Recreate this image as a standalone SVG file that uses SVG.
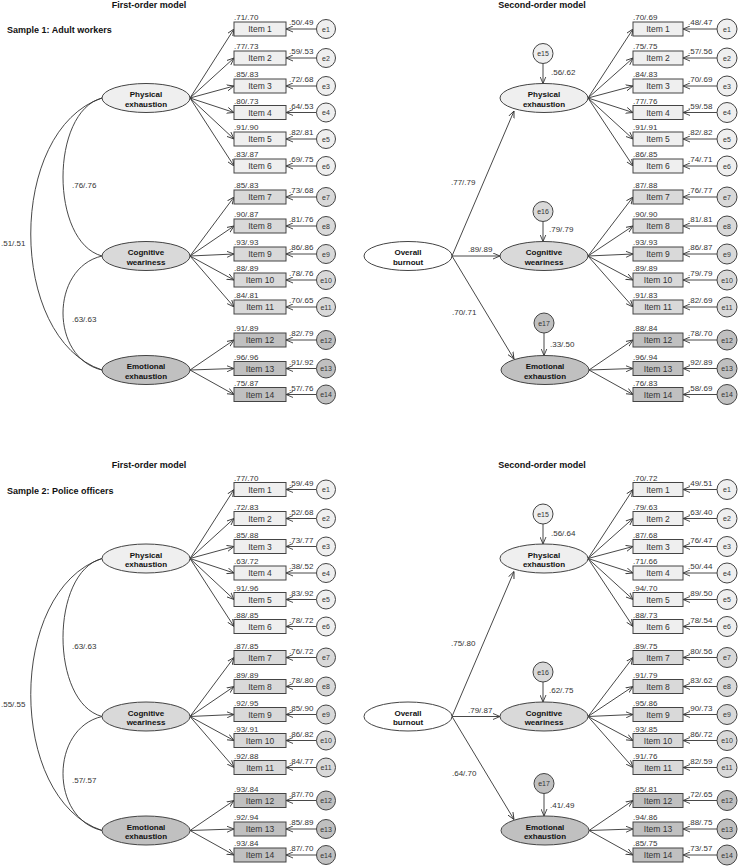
<svg xmlns="http://www.w3.org/2000/svg" width="738" height="867" viewBox="0 0 738 867">
<style>
text{font-family:"Liberation Sans",Arial,sans-serif;fill:#333}
.tt{font-size:9px;font-weight:bold;fill:#111}
.v{font-size:8px}
.it{font-size:8.5px;text-anchor:middle}
.et{font-size:7px;text-anchor:middle}
.lt{font-size:8px;font-weight:bold;text-anchor:middle;fill:#111}
rect,circle,ellipse{stroke:#444;stroke-width:1}
.f1{fill:#efefef}.f2{fill:#d9d9d9}.f3{fill:#c0c0c0}.f0{fill:#fff}
.cn line,.cn path{stroke:#333;stroke-width:0.9;fill:none}
.ar{marker-end:url(#ah)}
</style>
<defs>
<marker id="ah" viewBox="0 0 8 8" refX="8" refY="4" markerWidth="7" markerHeight="7" markerUnits="userSpaceOnUse" orient="auto"><path d="M0,0.6 L8,4 L0,7.4" fill="none" stroke="#333" stroke-width="1"/></marker>
</defs>

<!-- ================= SAMPLE 1 ================= -->
<g id="sample1">
<text class="tt" x="149" y="7.5" text-anchor="middle">First-order model</text>
<text class="tt" x="542" y="7.5" text-anchor="middle">Second-order model</text>
<text class="tt" x="7" y="33">Sample 1: Adult workers</text>

<!-- first-order connectors -->
<g id="s1-fo-connectors" class="cn">
<path d="M102,98 C50,112 50,242 102,256"/>
<path d="M102,98 C7,130 7,338 102,370"/>
<path d="M102,256 C50,268 50,358 102,370"/>
<line class="ar" x1="190" y1="98" x2="234" y2="29"/>
<line class="ar" x1="190" y1="98" x2="234" y2="58"/>
<line class="ar" x1="190" y1="98" x2="234" y2="86"/>
<line class="ar" x1="190" y1="98" x2="234" y2="112.5"/>
<line class="ar" x1="190" y1="98" x2="234" y2="139"/>
<line class="ar" x1="190" y1="98" x2="234" y2="166"/>
<line class="ar" x1="190" y1="256" x2="234" y2="197"/>
<line class="ar" x1="190" y1="256" x2="234" y2="226"/>
<line class="ar" x1="190" y1="256" x2="234" y2="254"/>
<line class="ar" x1="190" y1="256" x2="234" y2="280"/>
<line class="ar" x1="190" y1="256" x2="234" y2="307"/>
<line class="ar" x1="190" y1="370" x2="234" y2="340"/>
<line class="ar" x1="190" y1="370" x2="234" y2="368.5"/>
<line class="ar" x1="190" y1="370" x2="234" y2="394.5"/>
<line class="ar" x1="316.5" y1="29" x2="286" y2="29"/>
<line class="ar" x1="316.5" y1="58" x2="286" y2="58"/>
<line class="ar" x1="316.5" y1="86" x2="286" y2="86"/>
<line class="ar" x1="316.5" y1="112.5" x2="286" y2="112.5"/>
<line class="ar" x1="316.5" y1="139" x2="286" y2="139"/>
<line class="ar" x1="316.5" y1="166" x2="286" y2="166"/>
<line class="ar" x1="316.5" y1="197" x2="286" y2="197"/>
<line class="ar" x1="316.5" y1="226" x2="286" y2="226"/>
<line class="ar" x1="316.5" y1="254" x2="286" y2="254"/>
<line class="ar" x1="316.5" y1="280" x2="286" y2="280"/>
<line class="ar" x1="316.5" y1="307" x2="286" y2="307"/>
<line class="ar" x1="316.5" y1="340" x2="286" y2="340"/>
<line class="ar" x1="316.5" y1="368.5" x2="286" y2="368.5"/>
<line class="ar" x1="316.5" y1="394.5" x2="286" y2="394.5"/>
<text class="v" x="72" y="188">.76/.76</text>
<text class="v" x="1" y="246">.51/.51</text>
<text class="v" x="72" y="322">.63/.63</text>
<text class="v" x="234" y="20">.71/.70</text>
<text class="v" x="234" y="49">.77/.73</text>
<text class="v" x="234" y="77">.85/.83</text>
<text class="v" x="234" y="103.5">.80/.73</text>
<text class="v" x="234" y="130">.91/.90</text>
<text class="v" x="234" y="157">.83/.87</text>
<text class="v" x="234" y="188">.85/.83</text>
<text class="v" x="234" y="217">.90/.87</text>
<text class="v" x="234" y="245">.93/.93</text>
<text class="v" x="234" y="271">.88/.89</text>
<text class="v" x="234" y="298">.84/.81</text>
<text class="v" x="234" y="331">.91/.89</text>
<text class="v" x="234" y="359.5">.96/.96</text>
<text class="v" x="234" y="385.5">.75/.87</text>
<text class="v" x="289" y="25">.50/.49</text>
<text class="v" x="289" y="54">.59/.53</text>
<text class="v" x="289" y="82">.72/.68</text>
<text class="v" x="289" y="108.5">.64/.53</text>
<text class="v" x="289" y="135">.82/.81</text>
<text class="v" x="289" y="162">.69/.75</text>
<text class="v" x="289" y="193">.73/.68</text>
<text class="v" x="289" y="222">.81/.76</text>
<text class="v" x="289" y="250">.86/.86</text>
<text class="v" x="289" y="276">.78/.76</text>
<text class="v" x="289" y="303">.70/.65</text>
<text class="v" x="289" y="336">.82/.79</text>
<text class="v" x="289" y="364.5">.91/.92</text>
<text class="v" x="289" y="390.5">.57/.76</text>
</g>

<!-- first-order nodes -->
<g id="s1-fo-physical"><ellipse class="f1" cx="146" cy="98" rx="44" ry="14.5"/><text class="lt" x="146" y="97">Physical</text><text class="lt" x="146" y="106.5">exhaustion</text></g>
<g id="s1-fo-cognitive"><ellipse class="f2" cx="146" cy="256" rx="44" ry="14.5"/><text class="lt" x="146" y="255">Cognitive</text><text class="lt" x="146" y="264.5">weariness</text></g>
<g id="s1-fo-emotional"><ellipse class="f3" cx="146" cy="370" rx="44" ry="14.5"/><text class="lt" x="146" y="369">Emotional</text><text class="lt" x="146" y="378.5">exhaustion</text></g>

<g id="s1-fo-item1"><rect class="f1" x="234" y="22" width="52" height="14"/><text class="it" x="260" y="32">Item 1</text></g>
<g id="s1-fo-item2"><rect class="f1" x="234" y="51" width="52" height="14"/><text class="it" x="260" y="61">Item 2</text></g>
<g id="s1-fo-item3"><rect class="f1" x="234" y="79" width="52" height="14"/><text class="it" x="260" y="89">Item 3</text></g>
<g id="s1-fo-item4"><rect class="f1" x="234" y="105.5" width="52" height="14"/><text class="it" x="260" y="115.5">Item 4</text></g>
<g id="s1-fo-item5"><rect class="f1" x="234" y="132" width="52" height="14"/><text class="it" x="260" y="142">Item 5</text></g>
<g id="s1-fo-item6"><rect class="f1" x="234" y="159" width="52" height="14"/><text class="it" x="260" y="169">Item 6</text></g>
<g id="s1-fo-item7"><rect class="f2" x="234" y="190" width="52" height="14"/><text class="it" x="260" y="200">Item 7</text></g>
<g id="s1-fo-item8"><rect class="f2" x="234" y="219" width="52" height="14"/><text class="it" x="260" y="229">Item 8</text></g>
<g id="s1-fo-item9"><rect class="f2" x="234" y="247" width="52" height="14"/><text class="it" x="260" y="257">Item 9</text></g>
<g id="s1-fo-item10"><rect class="f2" x="234" y="273" width="52" height="14"/><text class="it" x="260" y="283">Item 10</text></g>
<g id="s1-fo-item11"><rect class="f2" x="234" y="300" width="52" height="14"/><text class="it" x="260" y="310">Item 11</text></g>
<g id="s1-fo-item12"><rect class="f3" x="234" y="333" width="52" height="14"/><text class="it" x="260" y="343">Item 12</text></g>
<g id="s1-fo-item13"><rect class="f3" x="234" y="361.5" width="52" height="14"/><text class="it" x="260" y="371.5">Item 13</text></g>
<g id="s1-fo-item14"><rect class="f3" x="234" y="387.5" width="52" height="14"/><text class="it" x="260" y="397.5">Item 14</text></g>

<g id="s1-fo-e1"><circle class="f1" cx="326" cy="29" r="9.5"/><text class="et" x="326" y="31.5">e1</text></g>
<g id="s1-fo-e2"><circle class="f1" cx="326" cy="58" r="9.5"/><text class="et" x="326" y="60.5">e2</text></g>
<g id="s1-fo-e3"><circle class="f1" cx="326" cy="86" r="9.5"/><text class="et" x="326" y="88.5">e3</text></g>
<g id="s1-fo-e4"><circle class="f1" cx="326" cy="112.5" r="9.5"/><text class="et" x="326" y="115">e4</text></g>
<g id="s1-fo-e5"><circle class="f1" cx="326" cy="139" r="9.5"/><text class="et" x="326" y="141.5">e5</text></g>
<g id="s1-fo-e6"><circle class="f1" cx="326" cy="166" r="9.5"/><text class="et" x="326" y="168.5">e6</text></g>
<g id="s1-fo-e7"><circle class="f2" cx="326" cy="197" r="9.5"/><text class="et" x="326" y="199.5">e7</text></g>
<g id="s1-fo-e8"><circle class="f2" cx="326" cy="226" r="9.5"/><text class="et" x="326" y="228.5">e8</text></g>
<g id="s1-fo-e9"><circle class="f2" cx="326" cy="254" r="9.5"/><text class="et" x="326" y="256.5">e9</text></g>
<g id="s1-fo-e10"><circle class="f2" cx="326" cy="280" r="9.5"/><text class="et" x="326" y="282.5">e10</text></g>
<g id="s1-fo-e11"><circle class="f2" cx="326" cy="307" r="9.5"/><text class="et" x="326" y="309.5">e11</text></g>
<g id="s1-fo-e12"><circle class="f3" cx="326" cy="340" r="9.5"/><text class="et" x="326" y="342.5">e12</text></g>
<g id="s1-fo-e13"><circle class="f3" cx="326" cy="368.5" r="9.5"/><text class="et" x="326" y="371">e13</text></g>
<g id="s1-fo-e14"><circle class="f3" cx="326" cy="394.5" r="9.5"/><text class="et" x="326" y="397">e14</text></g>

<!-- second-order connectors -->
<g id="s1-so-connectors" class="cn">
<line class="ar" x1="452" y1="256" x2="514" y2="111"/>
<line class="ar" x1="452" y1="256" x2="500" y2="256"/>
<line class="ar" x1="452" y1="256" x2="514" y2="359"/>
<line class="ar" x1="543" y1="63.5" x2="543" y2="83.5"/>
<line class="ar" x1="543" y1="221.5" x2="543" y2="241.5"/>
<line class="ar" x1="544" y1="333" x2="544" y2="355.5"/>
<line class="ar" x1="588" y1="98" x2="633" y2="29"/>
<line class="ar" x1="588" y1="98" x2="633" y2="58"/>
<line class="ar" x1="588" y1="98" x2="633" y2="86"/>
<line class="ar" x1="588" y1="98" x2="633" y2="112.5"/>
<line class="ar" x1="588" y1="98" x2="633" y2="139"/>
<line class="ar" x1="588" y1="98" x2="633" y2="166"/>
<line class="ar" x1="588" y1="256" x2="633" y2="197"/>
<line class="ar" x1="588" y1="256" x2="633" y2="226"/>
<line class="ar" x1="588" y1="256" x2="633" y2="254"/>
<line class="ar" x1="588" y1="256" x2="633" y2="280"/>
<line class="ar" x1="588" y1="256" x2="633" y2="307"/>
<line class="ar" x1="589" y1="370" x2="633" y2="340"/>
<line class="ar" x1="589" y1="370" x2="633" y2="368.5"/>
<line class="ar" x1="589" y1="370" x2="633" y2="394.5"/>
<line class="ar" x1="717" y1="29" x2="683" y2="29"/>
<line class="ar" x1="717" y1="58" x2="683" y2="58"/>
<line class="ar" x1="717" y1="86" x2="683" y2="86"/>
<line class="ar" x1="717" y1="112.5" x2="683" y2="112.5"/>
<line class="ar" x1="717" y1="139" x2="683" y2="139"/>
<line class="ar" x1="717" y1="166" x2="683" y2="166"/>
<line class="ar" x1="717" y1="197" x2="683" y2="197"/>
<line class="ar" x1="717" y1="226" x2="683" y2="226"/>
<line class="ar" x1="717" y1="254" x2="683" y2="254"/>
<line class="ar" x1="717" y1="280" x2="683" y2="280"/>
<line class="ar" x1="717" y1="307" x2="683" y2="307"/>
<line class="ar" x1="717" y1="340" x2="683" y2="340"/>
<line class="ar" x1="717" y1="368.5" x2="683" y2="368.5"/>
<line class="ar" x1="717" y1="394.5" x2="683" y2="394.5"/>
<text class="v" x="451" y="185">.77/.79</text>
<text class="v" x="468" y="252">.89/.89</text>
<text class="v" x="452" y="315">.70/.71</text>
<text class="v" x="551" y="75">.56/.62</text>
<text class="v" x="549" y="232">.79/.79</text>
<text class="v" x="550" y="347">.33/.50</text>
<text class="v" x="633" y="20">.70/.69</text>
<text class="v" x="633" y="49">.75/.75</text>
<text class="v" x="633" y="77">.84/.83</text>
<text class="v" x="633" y="103.5">.77/.76</text>
<text class="v" x="633" y="130">.91/.91</text>
<text class="v" x="633" y="157">.86/.85</text>
<text class="v" x="633" y="188">.87/.88</text>
<text class="v" x="633" y="217">.90/.90</text>
<text class="v" x="633" y="245">.93/.93</text>
<text class="v" x="633" y="271">.89/.89</text>
<text class="v" x="633" y="298">.91/.83</text>
<text class="v" x="633" y="331">.88/.84</text>
<text class="v" x="633" y="359.5">.96/.94</text>
<text class="v" x="633" y="385.5">.76/.83</text>
<text class="v" x="688" y="25">.48/.47</text>
<text class="v" x="688" y="54">.57/.56</text>
<text class="v" x="688" y="82">.70/.69</text>
<text class="v" x="688" y="108.5">.59/.58</text>
<text class="v" x="688" y="135">.82/.82</text>
<text class="v" x="688" y="162">.74/.71</text>
<text class="v" x="688" y="193">.76/.77</text>
<text class="v" x="688" y="222">.81/.81</text>
<text class="v" x="688" y="250">.86/.87</text>
<text class="v" x="688" y="276">.79/.79</text>
<text class="v" x="688" y="303">.82/.69</text>
<text class="v" x="688" y="336">.78/.70</text>
<text class="v" x="688" y="364.5">.92/.89</text>
<text class="v" x="688" y="390.5">.58/.69</text>
</g>

<g id="s1-so-overall"><ellipse class="f0" cx="408" cy="256" rx="44" ry="14.5"/><text class="lt" x="408" y="255">Overall</text><text class="lt" x="408" y="264.5">burnout</text></g>
<g id="s1-so-physical"><ellipse class="f1" cx="544" cy="98" rx="44" ry="14.5"/><text class="lt" x="544" y="97">Physical</text><text class="lt" x="544" y="106.5">exhaustion</text></g>
<g id="s1-so-cognitive"><ellipse class="f2" cx="544" cy="256" rx="44" ry="14.5"/><text class="lt" x="544" y="255">Cognitive</text><text class="lt" x="544" y="264.5">weariness</text></g>
<g id="s1-so-emotional"><ellipse class="f3" cx="545" cy="370" rx="44" ry="14.5"/><text class="lt" x="545" y="369">Emotional</text><text class="lt" x="545" y="378.5">exhaustion</text></g>
<g id="s1-so-e15"><circle class="f1" cx="543" cy="53.5" r="10"/><text class="et" x="543" y="56">e15</text></g>
<g id="s1-so-e16"><circle class="f2" cx="543" cy="211.5" r="10"/><text class="et" x="543" y="214">e16</text></g>
<g id="s1-so-e17"><circle class="f3" cx="544" cy="323" r="10"/><text class="et" x="544" y="325.5">e17</text></g>

<g id="s1-so-item1"><rect class="f1" x="633" y="22" width="50" height="14"/><text class="it" x="658" y="32">Item 1</text></g>
<g id="s1-so-item2"><rect class="f1" x="633" y="51" width="50" height="14"/><text class="it" x="658" y="61">Item 2</text></g>
<g id="s1-so-item3"><rect class="f1" x="633" y="79" width="50" height="14"/><text class="it" x="658" y="89">Item 3</text></g>
<g id="s1-so-item4"><rect class="f1" x="633" y="105.5" width="50" height="14"/><text class="it" x="658" y="115.5">Item 4</text></g>
<g id="s1-so-item5"><rect class="f1" x="633" y="132" width="50" height="14"/><text class="it" x="658" y="142">Item 5</text></g>
<g id="s1-so-item6"><rect class="f1" x="633" y="159" width="50" height="14"/><text class="it" x="658" y="169">Item 6</text></g>
<g id="s1-so-item7"><rect class="f2" x="633" y="190" width="50" height="14"/><text class="it" x="658" y="200">Item 7</text></g>
<g id="s1-so-item8"><rect class="f2" x="633" y="219" width="50" height="14"/><text class="it" x="658" y="229">Item 8</text></g>
<g id="s1-so-item9"><rect class="f2" x="633" y="247" width="50" height="14"/><text class="it" x="658" y="257">Item 9</text></g>
<g id="s1-so-item10"><rect class="f2" x="633" y="273" width="50" height="14"/><text class="it" x="658" y="283">Item 10</text></g>
<g id="s1-so-item11"><rect class="f2" x="633" y="300" width="50" height="14"/><text class="it" x="658" y="310">Item 11</text></g>
<g id="s1-so-item12"><rect class="f3" x="633" y="333" width="50" height="14"/><text class="it" x="658" y="343">Item 12</text></g>
<g id="s1-so-item13"><rect class="f3" x="633" y="361.5" width="50" height="14"/><text class="it" x="658" y="371.5">Item 13</text></g>
<g id="s1-so-item14"><rect class="f3" x="633" y="387.5" width="50" height="14"/><text class="it" x="658" y="397.5">Item 14</text></g>

<g id="s1-so-e1"><circle class="f1" cx="727" cy="29" r="10"/><text class="et" x="727" y="31.5">e1</text></g>
<g id="s1-so-e2"><circle class="f1" cx="727" cy="58" r="10"/><text class="et" x="727" y="60.5">e2</text></g>
<g id="s1-so-e3"><circle class="f1" cx="727" cy="86" r="10"/><text class="et" x="727" y="88.5">e3</text></g>
<g id="s1-so-e4"><circle class="f1" cx="727" cy="112.5" r="10"/><text class="et" x="727" y="115">e4</text></g>
<g id="s1-so-e5"><circle class="f1" cx="727" cy="139" r="10"/><text class="et" x="727" y="141.5">e5</text></g>
<g id="s1-so-e6"><circle class="f1" cx="727" cy="166" r="10"/><text class="et" x="727" y="168.5">e6</text></g>
<g id="s1-so-e7"><circle class="f2" cx="727" cy="197" r="10"/><text class="et" x="727" y="199.5">e7</text></g>
<g id="s1-so-e8"><circle class="f2" cx="727" cy="226" r="10"/><text class="et" x="727" y="228.5">e8</text></g>
<g id="s1-so-e9"><circle class="f2" cx="727" cy="254" r="10"/><text class="et" x="727" y="256.5">e9</text></g>
<g id="s1-so-e10"><circle class="f2" cx="727" cy="280" r="10"/><text class="et" x="727" y="282.5">e10</text></g>
<g id="s1-so-e11"><circle class="f2" cx="727" cy="307" r="10"/><text class="et" x="727" y="309.5">e11</text></g>
<g id="s1-so-e12"><circle class="f3" cx="727" cy="340" r="10"/><text class="et" x="727" y="342.5">e12</text></g>
<g id="s1-so-e13"><circle class="f3" cx="727" cy="368.5" r="10"/><text class="et" x="727" y="371">e13</text></g>
<g id="s1-so-e14"><circle class="f3" cx="727" cy="394.5" r="10"/><text class="et" x="727" y="397">e14</text></g>
</g>

<!-- ================= SAMPLE 2 ================= -->
<g id="sample2" transform="translate(0,460.5)">
<text class="tt" x="149" y="7.5" text-anchor="middle">First-order model</text>
<text class="tt" x="542" y="7.5" text-anchor="middle">Second-order model</text>
<text class="tt" x="7" y="33">Sample 2: Police officers</text>

<g id="s2-fo-connectors" class="cn">
<path d="M102,98 C50,112 50,242 102,256"/>
<path d="M102,98 C7,130 7,338 102,370"/>
<path d="M102,256 C50,268 50,358 102,370"/>
<line class="ar" x1="190" y1="98" x2="234" y2="29"/>
<line class="ar" x1="190" y1="98" x2="234" y2="58"/>
<line class="ar" x1="190" y1="98" x2="234" y2="86"/>
<line class="ar" x1="190" y1="98" x2="234" y2="112.5"/>
<line class="ar" x1="190" y1="98" x2="234" y2="139"/>
<line class="ar" x1="190" y1="98" x2="234" y2="166"/>
<line class="ar" x1="190" y1="256" x2="234" y2="197"/>
<line class="ar" x1="190" y1="256" x2="234" y2="226"/>
<line class="ar" x1="190" y1="256" x2="234" y2="254"/>
<line class="ar" x1="190" y1="256" x2="234" y2="280"/>
<line class="ar" x1="190" y1="256" x2="234" y2="307"/>
<line class="ar" x1="190" y1="370" x2="234" y2="340"/>
<line class="ar" x1="190" y1="370" x2="234" y2="368.5"/>
<line class="ar" x1="190" y1="370" x2="234" y2="394.5"/>
<line class="ar" x1="316.5" y1="29" x2="286" y2="29"/>
<line class="ar" x1="316.5" y1="58" x2="286" y2="58"/>
<line class="ar" x1="316.5" y1="86" x2="286" y2="86"/>
<line class="ar" x1="316.5" y1="112.5" x2="286" y2="112.5"/>
<line class="ar" x1="316.5" y1="139" x2="286" y2="139"/>
<line class="ar" x1="316.5" y1="166" x2="286" y2="166"/>
<line class="ar" x1="316.5" y1="197" x2="286" y2="197"/>
<line class="ar" x1="316.5" y1="226" x2="286" y2="226"/>
<line class="ar" x1="316.5" y1="254" x2="286" y2="254"/>
<line class="ar" x1="316.5" y1="280" x2="286" y2="280"/>
<line class="ar" x1="316.5" y1="307" x2="286" y2="307"/>
<line class="ar" x1="316.5" y1="340" x2="286" y2="340"/>
<line class="ar" x1="316.5" y1="368.5" x2="286" y2="368.5"/>
<line class="ar" x1="316.5" y1="394.5" x2="286" y2="394.5"/>
<text class="v" x="72" y="188">.63/.63</text>
<text class="v" x="1" y="246">.55/.55</text>
<text class="v" x="72" y="322">.57/.57</text>
<text class="v" x="234" y="20">.77/.70</text>
<text class="v" x="234" y="49">.72/.83</text>
<text class="v" x="234" y="77">.85/.88</text>
<text class="v" x="234" y="103.5">.63/.72</text>
<text class="v" x="234" y="130">.91/.96</text>
<text class="v" x="234" y="157">.88/.85</text>
<text class="v" x="234" y="188">.87/.85</text>
<text class="v" x="234" y="217">.89/.89</text>
<text class="v" x="234" y="245">.92/.95</text>
<text class="v" x="234" y="271">.93/.91</text>
<text class="v" x="234" y="298">.92/.88</text>
<text class="v" x="234" y="331">.93/.84</text>
<text class="v" x="234" y="359.5">.92/.94</text>
<text class="v" x="234" y="385.5">.93/.84</text>
<text class="v" x="289" y="25">.59/.49</text>
<text class="v" x="289" y="54">.52/.68</text>
<text class="v" x="289" y="82">.73/.77</text>
<text class="v" x="289" y="108.5">.38/.52</text>
<text class="v" x="289" y="135">.83/.92</text>
<text class="v" x="289" y="162">.78/.72</text>
<text class="v" x="289" y="193">.76/.72</text>
<text class="v" x="289" y="222">.78/.80</text>
<text class="v" x="289" y="250">.85/.90</text>
<text class="v" x="289" y="276">.86/.82</text>
<text class="v" x="289" y="303">.84/.77</text>
<text class="v" x="289" y="336">.87/.70</text>
<text class="v" x="289" y="364.5">.85/.89</text>
<text class="v" x="289" y="390.5">.87/.70</text>
</g>

<g id="s2-fo-physical"><ellipse class="f1" cx="146" cy="98" rx="44" ry="14.5"/><text class="lt" x="146" y="97">Physical</text><text class="lt" x="146" y="106.5">exhaustion</text></g>
<g id="s2-fo-cognitive"><ellipse class="f2" cx="146" cy="256" rx="44" ry="14.5"/><text class="lt" x="146" y="255">Cognitive</text><text class="lt" x="146" y="264.5">weariness</text></g>
<g id="s2-fo-emotional"><ellipse class="f3" cx="146" cy="370" rx="44" ry="14.5"/><text class="lt" x="146" y="369">Emotional</text><text class="lt" x="146" y="378.5">exhaustion</text></g>

<g id="s2-fo-item1"><rect class="f1" x="234" y="22" width="52" height="14"/><text class="it" x="260" y="32">Item 1</text></g>
<g id="s2-fo-item2"><rect class="f1" x="234" y="51" width="52" height="14"/><text class="it" x="260" y="61">Item 2</text></g>
<g id="s2-fo-item3"><rect class="f1" x="234" y="79" width="52" height="14"/><text class="it" x="260" y="89">Item 3</text></g>
<g id="s2-fo-item4"><rect class="f1" x="234" y="105.5" width="52" height="14"/><text class="it" x="260" y="115.5">Item 4</text></g>
<g id="s2-fo-item5"><rect class="f1" x="234" y="132" width="52" height="14"/><text class="it" x="260" y="142">Item 5</text></g>
<g id="s2-fo-item6"><rect class="f1" x="234" y="159" width="52" height="14"/><text class="it" x="260" y="169">Item 6</text></g>
<g id="s2-fo-item7"><rect class="f2" x="234" y="190" width="52" height="14"/><text class="it" x="260" y="200">Item 7</text></g>
<g id="s2-fo-item8"><rect class="f2" x="234" y="219" width="52" height="14"/><text class="it" x="260" y="229">Item 8</text></g>
<g id="s2-fo-item9"><rect class="f2" x="234" y="247" width="52" height="14"/><text class="it" x="260" y="257">Item 9</text></g>
<g id="s2-fo-item10"><rect class="f2" x="234" y="273" width="52" height="14"/><text class="it" x="260" y="283">Item 10</text></g>
<g id="s2-fo-item11"><rect class="f2" x="234" y="300" width="52" height="14"/><text class="it" x="260" y="310">Item 11</text></g>
<g id="s2-fo-item12"><rect class="f3" x="234" y="333" width="52" height="14"/><text class="it" x="260" y="343">Item 12</text></g>
<g id="s2-fo-item13"><rect class="f3" x="234" y="361.5" width="52" height="14"/><text class="it" x="260" y="371.5">Item 13</text></g>
<g id="s2-fo-item14"><rect class="f3" x="234" y="387.5" width="52" height="14"/><text class="it" x="260" y="397.5">Item 14</text></g>

<g id="s2-fo-e1"><circle class="f1" cx="326" cy="29" r="9.5"/><text class="et" x="326" y="31.5">e1</text></g>
<g id="s2-fo-e2"><circle class="f1" cx="326" cy="58" r="9.5"/><text class="et" x="326" y="60.5">e2</text></g>
<g id="s2-fo-e3"><circle class="f1" cx="326" cy="86" r="9.5"/><text class="et" x="326" y="88.5">e3</text></g>
<g id="s2-fo-e4"><circle class="f1" cx="326" cy="112.5" r="9.5"/><text class="et" x="326" y="115">e4</text></g>
<g id="s2-fo-e5"><circle class="f1" cx="326" cy="139" r="9.5"/><text class="et" x="326" y="141.5">e5</text></g>
<g id="s2-fo-e6"><circle class="f1" cx="326" cy="166" r="9.5"/><text class="et" x="326" y="168.5">e6</text></g>
<g id="s2-fo-e7"><circle class="f2" cx="326" cy="197" r="9.5"/><text class="et" x="326" y="199.5">e7</text></g>
<g id="s2-fo-e8"><circle class="f2" cx="326" cy="226" r="9.5"/><text class="et" x="326" y="228.5">e8</text></g>
<g id="s2-fo-e9"><circle class="f2" cx="326" cy="254" r="9.5"/><text class="et" x="326" y="256.5">e9</text></g>
<g id="s2-fo-e10"><circle class="f2" cx="326" cy="280" r="9.5"/><text class="et" x="326" y="282.5">e10</text></g>
<g id="s2-fo-e11"><circle class="f2" cx="326" cy="307" r="9.5"/><text class="et" x="326" y="309.5">e11</text></g>
<g id="s2-fo-e12"><circle class="f3" cx="326" cy="340" r="9.5"/><text class="et" x="326" y="342.5">e12</text></g>
<g id="s2-fo-e13"><circle class="f3" cx="326" cy="368.5" r="9.5"/><text class="et" x="326" y="371">e13</text></g>
<g id="s2-fo-e14"><circle class="f3" cx="326" cy="394.5" r="9.5"/><text class="et" x="326" y="397">e14</text></g>

<g id="s2-so-connectors" class="cn">
<line class="ar" x1="452" y1="256" x2="514" y2="111"/>
<line class="ar" x1="452" y1="256" x2="500" y2="256"/>
<line class="ar" x1="452" y1="256" x2="514" y2="359"/>
<line class="ar" x1="543" y1="63.5" x2="543" y2="83.5"/>
<line class="ar" x1="543" y1="221.5" x2="543" y2="241.5"/>
<line class="ar" x1="544" y1="333" x2="544" y2="355.5"/>
<line class="ar" x1="588" y1="98" x2="633" y2="29"/>
<line class="ar" x1="588" y1="98" x2="633" y2="58"/>
<line class="ar" x1="588" y1="98" x2="633" y2="86"/>
<line class="ar" x1="588" y1="98" x2="633" y2="112.5"/>
<line class="ar" x1="588" y1="98" x2="633" y2="139"/>
<line class="ar" x1="588" y1="98" x2="633" y2="166"/>
<line class="ar" x1="588" y1="256" x2="633" y2="197"/>
<line class="ar" x1="588" y1="256" x2="633" y2="226"/>
<line class="ar" x1="588" y1="256" x2="633" y2="254"/>
<line class="ar" x1="588" y1="256" x2="633" y2="280"/>
<line class="ar" x1="588" y1="256" x2="633" y2="307"/>
<line class="ar" x1="589" y1="370" x2="633" y2="340"/>
<line class="ar" x1="589" y1="370" x2="633" y2="368.5"/>
<line class="ar" x1="589" y1="370" x2="633" y2="394.5"/>
<line class="ar" x1="717" y1="29" x2="683" y2="29"/>
<line class="ar" x1="717" y1="58" x2="683" y2="58"/>
<line class="ar" x1="717" y1="86" x2="683" y2="86"/>
<line class="ar" x1="717" y1="112.5" x2="683" y2="112.5"/>
<line class="ar" x1="717" y1="139" x2="683" y2="139"/>
<line class="ar" x1="717" y1="166" x2="683" y2="166"/>
<line class="ar" x1="717" y1="197" x2="683" y2="197"/>
<line class="ar" x1="717" y1="226" x2="683" y2="226"/>
<line class="ar" x1="717" y1="254" x2="683" y2="254"/>
<line class="ar" x1="717" y1="280" x2="683" y2="280"/>
<line class="ar" x1="717" y1="307" x2="683" y2="307"/>
<line class="ar" x1="717" y1="340" x2="683" y2="340"/>
<line class="ar" x1="717" y1="368.5" x2="683" y2="368.5"/>
<line class="ar" x1="717" y1="394.5" x2="683" y2="394.5"/>
<text class="v" x="451" y="185">.75/.80</text>
<text class="v" x="468" y="252">.79/.87</text>
<text class="v" x="452" y="315">.64/.70</text>
<text class="v" x="551" y="75">.56/.64</text>
<text class="v" x="549" y="232">.62/.75</text>
<text class="v" x="550" y="347">.41/.49</text>
<text class="v" x="633" y="20">.70/.72</text>
<text class="v" x="633" y="49">.79/.63</text>
<text class="v" x="633" y="77">.87/.68</text>
<text class="v" x="633" y="103.5">.71/.66</text>
<text class="v" x="633" y="130">.94/.70</text>
<text class="v" x="633" y="157">.88/.73</text>
<text class="v" x="633" y="188">.89/.75</text>
<text class="v" x="633" y="217">.91/.79</text>
<text class="v" x="633" y="245">.95/.86</text>
<text class="v" x="633" y="271">.93/.85</text>
<text class="v" x="633" y="298">.91/.76</text>
<text class="v" x="633" y="331">.85/.81</text>
<text class="v" x="633" y="359.5">.94/.86</text>
<text class="v" x="633" y="385.5">.85/.75</text>
<text class="v" x="688" y="25">.49/.51</text>
<text class="v" x="688" y="54">.63/.40</text>
<text class="v" x="688" y="82">.76/.47</text>
<text class="v" x="688" y="108.5">.50/.44</text>
<text class="v" x="688" y="135">.89/.50</text>
<text class="v" x="688" y="162">.78/.54</text>
<text class="v" x="688" y="193">.80/.56</text>
<text class="v" x="688" y="222">.83/.62</text>
<text class="v" x="688" y="250">.90/.73</text>
<text class="v" x="688" y="276">.86/.72</text>
<text class="v" x="688" y="303">.82/.59</text>
<text class="v" x="688" y="336">.72/.65</text>
<text class="v" x="688" y="364.5">.88/.75</text>
<text class="v" x="688" y="390.5">.73/.57</text>
</g>

<g id="s2-so-overall"><ellipse class="f0" cx="408" cy="256" rx="44" ry="14.5"/><text class="lt" x="408" y="255">Overall</text><text class="lt" x="408" y="264.5">burnout</text></g>
<g id="s2-so-physical"><ellipse class="f1" cx="544" cy="98" rx="44" ry="14.5"/><text class="lt" x="544" y="97">Physical</text><text class="lt" x="544" y="106.5">exhaustion</text></g>
<g id="s2-so-cognitive"><ellipse class="f2" cx="544" cy="256" rx="44" ry="14.5"/><text class="lt" x="544" y="255">Cognitive</text><text class="lt" x="544" y="264.5">weariness</text></g>
<g id="s2-so-emotional"><ellipse class="f3" cx="545" cy="370" rx="44" ry="14.5"/><text class="lt" x="545" y="369">Emotional</text><text class="lt" x="545" y="378.5">exhaustion</text></g>
<g id="s2-so-e15"><circle class="f1" cx="543" cy="53.5" r="10"/><text class="et" x="543" y="56">e15</text></g>
<g id="s2-so-e16"><circle class="f2" cx="543" cy="211.5" r="10"/><text class="et" x="543" y="214">e16</text></g>
<g id="s2-so-e17"><circle class="f3" cx="544" cy="323" r="10"/><text class="et" x="544" y="325.5">e17</text></g>

<g id="s2-so-item1"><rect class="f1" x="633" y="22" width="50" height="14"/><text class="it" x="658" y="32">Item 1</text></g>
<g id="s2-so-item2"><rect class="f1" x="633" y="51" width="50" height="14"/><text class="it" x="658" y="61">Item 2</text></g>
<g id="s2-so-item3"><rect class="f1" x="633" y="79" width="50" height="14"/><text class="it" x="658" y="89">Item 3</text></g>
<g id="s2-so-item4"><rect class="f1" x="633" y="105.5" width="50" height="14"/><text class="it" x="658" y="115.5">Item 4</text></g>
<g id="s2-so-item5"><rect class="f1" x="633" y="132" width="50" height="14"/><text class="it" x="658" y="142">Item 5</text></g>
<g id="s2-so-item6"><rect class="f1" x="633" y="159" width="50" height="14"/><text class="it" x="658" y="169">Item 6</text></g>
<g id="s2-so-item7"><rect class="f2" x="633" y="190" width="50" height="14"/><text class="it" x="658" y="200">Item 7</text></g>
<g id="s2-so-item8"><rect class="f2" x="633" y="219" width="50" height="14"/><text class="it" x="658" y="229">Item 8</text></g>
<g id="s2-so-item9"><rect class="f2" x="633" y="247" width="50" height="14"/><text class="it" x="658" y="257">Item 9</text></g>
<g id="s2-so-item10"><rect class="f2" x="633" y="273" width="50" height="14"/><text class="it" x="658" y="283">Item 10</text></g>
<g id="s2-so-item11"><rect class="f2" x="633" y="300" width="50" height="14"/><text class="it" x="658" y="310">Item 11</text></g>
<g id="s2-so-item12"><rect class="f3" x="633" y="333" width="50" height="14"/><text class="it" x="658" y="343">Item 12</text></g>
<g id="s2-so-item13"><rect class="f3" x="633" y="361.5" width="50" height="14"/><text class="it" x="658" y="371.5">Item 13</text></g>
<g id="s2-so-item14"><rect class="f3" x="633" y="387.5" width="50" height="14"/><text class="it" x="658" y="397.5">Item 14</text></g>

<g id="s2-so-e1"><circle class="f1" cx="727" cy="29" r="10"/><text class="et" x="727" y="31.5">e1</text></g>
<g id="s2-so-e2"><circle class="f1" cx="727" cy="58" r="10"/><text class="et" x="727" y="60.5">e2</text></g>
<g id="s2-so-e3"><circle class="f1" cx="727" cy="86" r="10"/><text class="et" x="727" y="88.5">e3</text></g>
<g id="s2-so-e4"><circle class="f1" cx="727" cy="112.5" r="10"/><text class="et" x="727" y="115">e4</text></g>
<g id="s2-so-e5"><circle class="f1" cx="727" cy="139" r="10"/><text class="et" x="727" y="141.5">e5</text></g>
<g id="s2-so-e6"><circle class="f1" cx="727" cy="166" r="10"/><text class="et" x="727" y="168.5">e6</text></g>
<g id="s2-so-e7"><circle class="f2" cx="727" cy="197" r="10"/><text class="et" x="727" y="199.5">e7</text></g>
<g id="s2-so-e8"><circle class="f2" cx="727" cy="226" r="10"/><text class="et" x="727" y="228.5">e8</text></g>
<g id="s2-so-e9"><circle class="f2" cx="727" cy="254" r="10"/><text class="et" x="727" y="256.5">e9</text></g>
<g id="s2-so-e10"><circle class="f2" cx="727" cy="280" r="10"/><text class="et" x="727" y="282.5">e10</text></g>
<g id="s2-so-e11"><circle class="f2" cx="727" cy="307" r="10"/><text class="et" x="727" y="309.5">e11</text></g>
<g id="s2-so-e12"><circle class="f3" cx="727" cy="340" r="10"/><text class="et" x="727" y="342.5">e12</text></g>
<g id="s2-so-e13"><circle class="f3" cx="727" cy="368.5" r="10"/><text class="et" x="727" y="371">e13</text></g>
<g id="s2-so-e14"><circle class="f3" cx="727" cy="394.5" r="10"/><text class="et" x="727" y="397">e14</text></g>
</g>
</svg>
